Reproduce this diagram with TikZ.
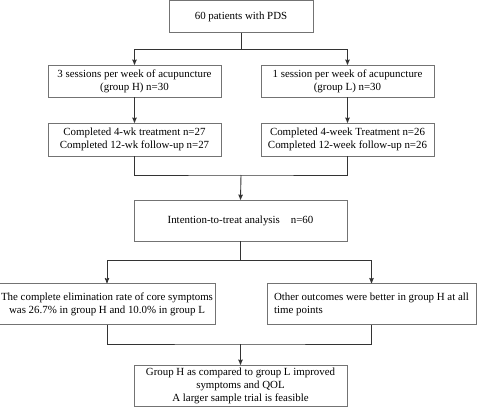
\documentclass[tikz,border=0pt]{standalone}
\usepackage{fontspec}
\setmainfont{Liberation Serif}
\usetikzlibrary{arrows}

\begin{document}
\begin{tikzpicture}[x=1pt,y=-1pt,->,>=stealth',line width=0.9pt,draw=black!80,
                    font=\fontsize{10.9}{13}\selectfont]
\tikzstyle{box}=[draw=black!55,line width=0.6pt,fill=white,text=black,
                 inner sep=2pt,align=center,minimum height=32pt]
\useasboundingbox (0,0) rectangle (480,408);
\node[box,minimum width=144pt] (pds) at (241,16.5) {60 patients with PDS};
\node[box,minimum width=173pt] (grpH) at (134.5,81) {3 sessions per week of acupuncture\\(group H) n=30};
\node[box,minimum width=173pt] (grpL) at (347.5,81) {1 session per week of acupuncture\\(group L) n=30};
\node[box,minimum width=173pt,minimum height=33pt] (doneH) at (134.5,139.5) {Completed 4-wk treatment n=27\\Completed 12-wk follow-up n=27};
\node[box,minimum width=173pt,minimum height=33pt] (doneL) at (347.5,139.5) {Completed 4-week Treatment n=26\\Completed 12-week follow-up n=26};
\node[box,minimum width=213pt,minimum height=41pt] (itt) at (240.5,220.5) {Intention-to-treat analysis\quad n=60};
\node[box,minimum width=212pt,minimum height=41pt] (resA) at (107,304) {The complete elimination rate of core symptoms\\was 26.7\% in group H and 10.0\% in group L};
\node[box,minimum width=209pt,minimum height=41pt,align=left] (resB) at (371.5,304) {Other outcomes were better in group H at all\\time points};
\node[box,minimum width=213pt,minimum height=41pt] (concl) at (240.5,385.5) {Group H as compared to group L improved\\symptoms and QOL\\A larger sample trial is feasible};
\coordinate (split1) at (241,49);
\coordinate (join1) at (241,175);
\coordinate (split2) at (240.5,260);
\coordinate (join2) at (240.5,344);
\draw[-] (pds.south) -- (split1);
\draw (split1) -| (grpH.north);
\draw (split1) -| (grpL.north);
\draw (grpH) -- (doneH);
\draw (grpL) -- (doneL);
\draw[-] (doneH.south) |- (join1) -| (doneL.south);
\draw (join1) -- (itt.north);
\draw[-] (itt.south) -- (split2);
\draw (split2) -| (resA.north);
\draw (split2) -| (resB.north);
\draw[-] (resA.south) |- (join2) -| (resB.south);
\draw (join2) -- (concl.north);
\end{tikzpicture}
\end{document}
